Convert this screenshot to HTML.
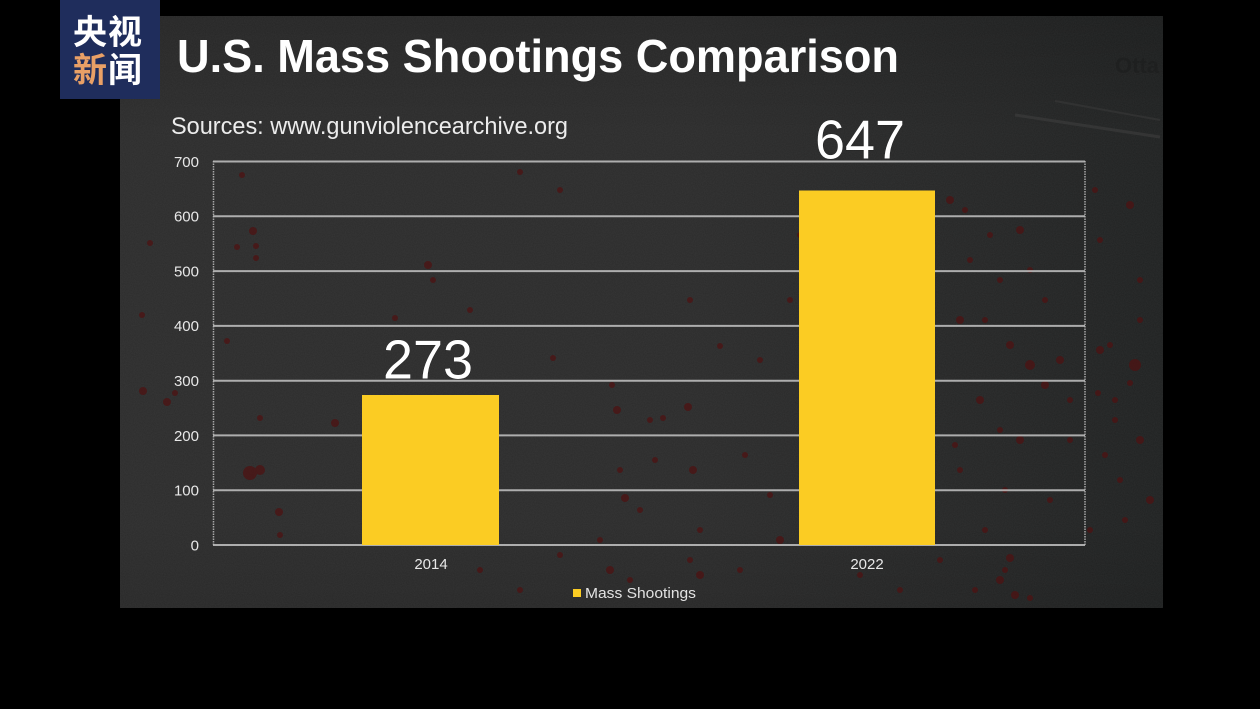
<!DOCTYPE html>
<html>
<head>
<meta charset="utf-8">
<style>
html,body{margin:0;padding:0;background:#000;}
body{width:1260px;height:709px;overflow:hidden;}
svg{display:block;}
</style>
</head>
<body>
<svg width="1260" height="709" viewBox="0 0 1260 709" xmlns="http://www.w3.org/2000/svg">
  <defs>
    <linearGradient id="bg" x1="0" y1="0" x2="1" y2="0">
      <stop offset="0" stop-color="#2c2c2c"/>
      <stop offset="0.55" stop-color="#2b2b2b"/>
      <stop offset="0.85" stop-color="#242525"/>
      <stop offset="1" stop-color="#1f2121"/>
    </linearGradient>
    <linearGradient id="bgv" x1="0" y1="0" x2="0" y2="1">
      <stop offset="0" stop-color="#000" stop-opacity="0.15"/>
      <stop offset="0.2" stop-color="#000" stop-opacity="0"/>
      <stop offset="0.85" stop-color="#000" stop-opacity="0"/>
      <stop offset="1" stop-color="#000" stop-opacity="0.1"/>
    </linearGradient>
    <filter id="noise" x="0" y="0" width="100%" height="100%">
      <feTurbulence type="fractalNoise" baseFrequency="0.9" numOctaves="2" seed="3"/>
      <feColorMatrix type="matrix" values="0 0 0 0 0.5  0 0 0 0 0.5  0 0 0 0 0.5  0 0 0 0.08 0"/>
    </filter>
    <clipPath id="panel"><rect x="120" y="16" width="1043" height="592"/></clipPath>
  </defs>

  <rect x="0" y="0" width="1260" height="709" fill="#000"/>
  <!-- panel -->
  <rect x="120" y="16" width="1043" height="592" fill="url(#bg)"/>
  <rect x="120" y="16" width="1043" height="592" fill="url(#bgv)"/>
  <rect x="120" y="16" width="1043" height="592" filter="url(#noise)"/>

  <g clip-path="url(#panel)">
    <!-- faint streaks top right -->
    <line x1="1015" y1="115" x2="1160" y2="137" stroke="#3e3e3e" stroke-width="3" opacity="0.6"/>
    <line x1="1055" y1="101" x2="1160" y2="120" stroke="#3c3c3c" stroke-width="2" opacity="0.5"/>
    <text x="1115" y="73" font-family="Liberation Sans, sans-serif" font-size="22" font-weight="bold" fill="#1b1c1c" opacity="0.5">Otta</text>

    <!-- red splatters -->
    <g fill="#4e1212" opacity="0.75">
      <circle cx="150" cy="243" r="3"/><circle cx="142" cy="315" r="3"/>
      <circle cx="242" cy="175" r="3"/><circle cx="253" cy="231" r="4"/><circle cx="256" cy="246" r="3"/>
      <circle cx="256" cy="258" r="3"/><circle cx="237" cy="247" r="3"/><circle cx="227" cy="341" r="3"/>
      <circle cx="143" cy="391" r="4"/><circle cx="175" cy="393" r="3"/><circle cx="167" cy="402" r="4"/>
      <circle cx="250" cy="473" r="7"/><circle cx="260" cy="470" r="5"/><circle cx="279" cy="512" r="4"/>
      <circle cx="280" cy="535" r="3"/><circle cx="335" cy="423" r="4"/><circle cx="260" cy="418" r="3"/>
      <circle cx="428" cy="265" r="4"/><circle cx="433" cy="280" r="3"/><circle cx="395" cy="318" r="3"/>
      <circle cx="520" cy="172" r="3"/><circle cx="560" cy="190" r="3"/><circle cx="470" cy="310" r="3"/>
      <circle cx="553" cy="358" r="3"/><circle cx="612" cy="385" r="3"/><circle cx="617" cy="410" r="4"/>
      <circle cx="650" cy="420" r="3"/><circle cx="688" cy="407" r="4"/><circle cx="663" cy="418" r="3"/>
      <circle cx="620" cy="470" r="3"/><circle cx="655" cy="460" r="3"/><circle cx="693" cy="470" r="4"/>
      <circle cx="625" cy="498" r="4"/><circle cx="640" cy="510" r="3"/><circle cx="700" cy="530" r="3"/>
      <circle cx="600" cy="540" r="3"/><circle cx="690" cy="300" r="3"/><circle cx="720" cy="346" r="3"/>
      <circle cx="760" cy="360" r="3"/><circle cx="745" cy="455" r="3"/><circle cx="770" cy="495" r="3"/>
      <circle cx="780" cy="540" r="4"/><circle cx="610" cy="570" r="4"/><circle cx="630" cy="580" r="3"/>
      <circle cx="700" cy="575" r="4"/><circle cx="740" cy="570" r="3"/><circle cx="690" cy="560" r="3"/>
      <circle cx="950" cy="200" r="4"/><circle cx="965" cy="210" r="3"/><circle cx="990" cy="235" r="3"/>
      <circle cx="970" cy="260" r="3"/><circle cx="1020" cy="230" r="4"/><circle cx="1000" cy="280" r="3"/>
      <circle cx="1030" cy="270" r="3"/><circle cx="1045" cy="300" r="3"/><circle cx="960" cy="320" r="4"/>
      <circle cx="985" cy="320" r="3"/><circle cx="1010" cy="345" r="4"/><circle cx="1030" cy="365" r="5"/>
      <circle cx="1060" cy="360" r="4"/><circle cx="1045" cy="385" r="4"/><circle cx="1070" cy="400" r="3"/>
      <circle cx="980" cy="400" r="4"/><circle cx="1000" cy="430" r="3"/><circle cx="955" cy="445" r="3"/>
      <circle cx="1020" cy="440" r="4"/><circle cx="1070" cy="440" r="3"/><circle cx="960" cy="470" r="3"/>
      <circle cx="1005" cy="490" r="3"/><circle cx="1050" cy="500" r="3"/><circle cx="985" cy="530" r="3"/>
      <circle cx="1100" cy="350" r="4"/><circle cx="1110" cy="345" r="3"/><circle cx="1135" cy="365" r="6"/>
      <circle cx="1098" cy="393" r="3"/><circle cx="1115" cy="400" r="3"/><circle cx="1130" cy="383" r="3"/>
      <circle cx="1115" cy="420" r="3"/><circle cx="1140" cy="440" r="4"/><circle cx="1105" cy="455" r="3"/>
      <circle cx="1095" cy="190" r="3"/><circle cx="1130" cy="205" r="4"/><circle cx="1140" cy="280" r="3"/>
      <circle cx="1140" cy="320" r="3"/><circle cx="1100" cy="240" r="3"/>
      <circle cx="1010" cy="558" r="4"/><circle cx="1000" cy="580" r="4"/><circle cx="1015" cy="595" r="4"/>
      <circle cx="1030" cy="598" r="3"/><circle cx="1005" cy="570" r="3"/>
      <circle cx="840" cy="300" r="3"/><circle cx="820" cy="265" r="3"/><circle cx="865" cy="250" r="3"/>
      <circle cx="800" cy="235" r="3"/><circle cx="790" cy="300" r="3"/>
      <circle cx="860" cy="575" r="3"/><circle cx="900" cy="590" r="3"/><circle cx="560" cy="555" r="3"/>
      <circle cx="480" cy="570" r="3"/><circle cx="520" cy="590" r="3"/>
      <circle cx="1120" cy="480" r="3"/><circle cx="1150" cy="500" r="4"/><circle cx="1125" cy="520" r="3"/>
      <circle cx="1090" cy="530" r="3"/><circle cx="975" cy="590" r="3"/><circle cx="940" cy="560" r="3"/>
    </g>
  </g>

  <!-- gridlines -->
  <g stroke="#c4c4c4" stroke-width="2" opacity="0.85">
    <line x1="213" y1="161.5" x2="1085" y2="161.5"/>
    <line x1="213" y1="216.3" x2="1085" y2="216.3"/>
    <line x1="213" y1="271.1" x2="1085" y2="271.1"/>
    <line x1="213" y1="325.9" x2="1085" y2="325.9"/>
    <line x1="213" y1="380.7" x2="1085" y2="380.7"/>
    <line x1="213" y1="435.4" x2="1085" y2="435.4"/>
    <line x1="213" y1="490.2" x2="1085" y2="490.2"/>
    <line x1="213" y1="545" x2="1085" y2="545"/>
  </g>
  <g stroke="#bdbdbd" stroke-width="1.5" stroke-dasharray="1.5 1" opacity="0.85">
    <line x1="213.5" y1="161" x2="213.5" y2="545"/>
    <line x1="1085" y1="161" x2="1085" y2="545"/>
  </g>

  <!-- bars -->
  <rect x="362" y="395" width="137" height="150" fill="#fbcc23"/>
  <rect x="799" y="190.5" width="136" height="354.5" fill="#fbcc23"/>

  <!-- y-axis labels -->
  <g font-family="Liberation Sans, sans-serif" font-size="15" fill="#e8e8e8" text-anchor="end">
    <text x="199" y="167">700</text>
    <text x="199" y="221.5">600</text>
    <text x="199" y="276.5">500</text>
    <text x="199" y="331">400</text>
    <text x="199" y="386">300</text>
    <text x="199" y="441">200</text>
    <text x="199" y="495.5">100</text>
    <text x="199" y="550.5">0</text>
  </g>

  <!-- x-axis labels -->
  <g font-family="Liberation Sans, sans-serif" font-size="15" fill="#e8e8e8" text-anchor="middle">
    <text x="431" y="569">2014</text>
    <text x="867" y="569">2022</text>
  </g>

  <!-- legend -->
  <rect x="573" y="589" width="8" height="8" fill="#fbcc23"/>
  <text x="585" y="598" font-family="Liberation Sans, sans-serif" font-size="15" fill="#e2e2e2" textLength="111" lengthAdjust="spacingAndGlyphs">Mass Shootings</text>

  <!-- data labels -->
  <g font-family="Liberation Sans, sans-serif" font-size="55" fill="#ffffff" stroke="#1a1a1a" stroke-width="0.6" paint-order="stroke">
    <text x="383" y="378.5" textLength="90" lengthAdjust="spacingAndGlyphs">273</text>
    <text x="815" y="158.5" textLength="90" lengthAdjust="spacingAndGlyphs">647</text>
  </g>

  <!-- title -->
  <text x="177" y="72" font-family="Liberation Sans, DejaVu Sans, sans-serif" font-weight="bold" font-size="46" fill="#ffffff" textLength="722" lengthAdjust="spacingAndGlyphs">U.S. Mass Shootings Comparison</text>

  <!-- sources -->
  <text x="171" y="134" font-family="Liberation Sans, sans-serif" font-size="24" fill="#ececec" textLength="397" lengthAdjust="spacingAndGlyphs">Sources: www.gunviolencearchive.org</text>

  <!-- logo -->
  <rect x="60" y="0" width="100" height="99" fill="#1f2d5c"/>
  <g font-family="Noto Sans CJK SC, WenQuanYi Zen Hei, sans-serif" font-weight="bold" font-size="34">
    <text x="73" y="44" fill="#ffffff" letter-spacing="1">央视</text>
    <text x="73" y="82" fill="#e9a066">新</text>
    <text x="108" y="82" fill="#ffffff">闻</text>
  </g>
</svg>
</body>
</html>
